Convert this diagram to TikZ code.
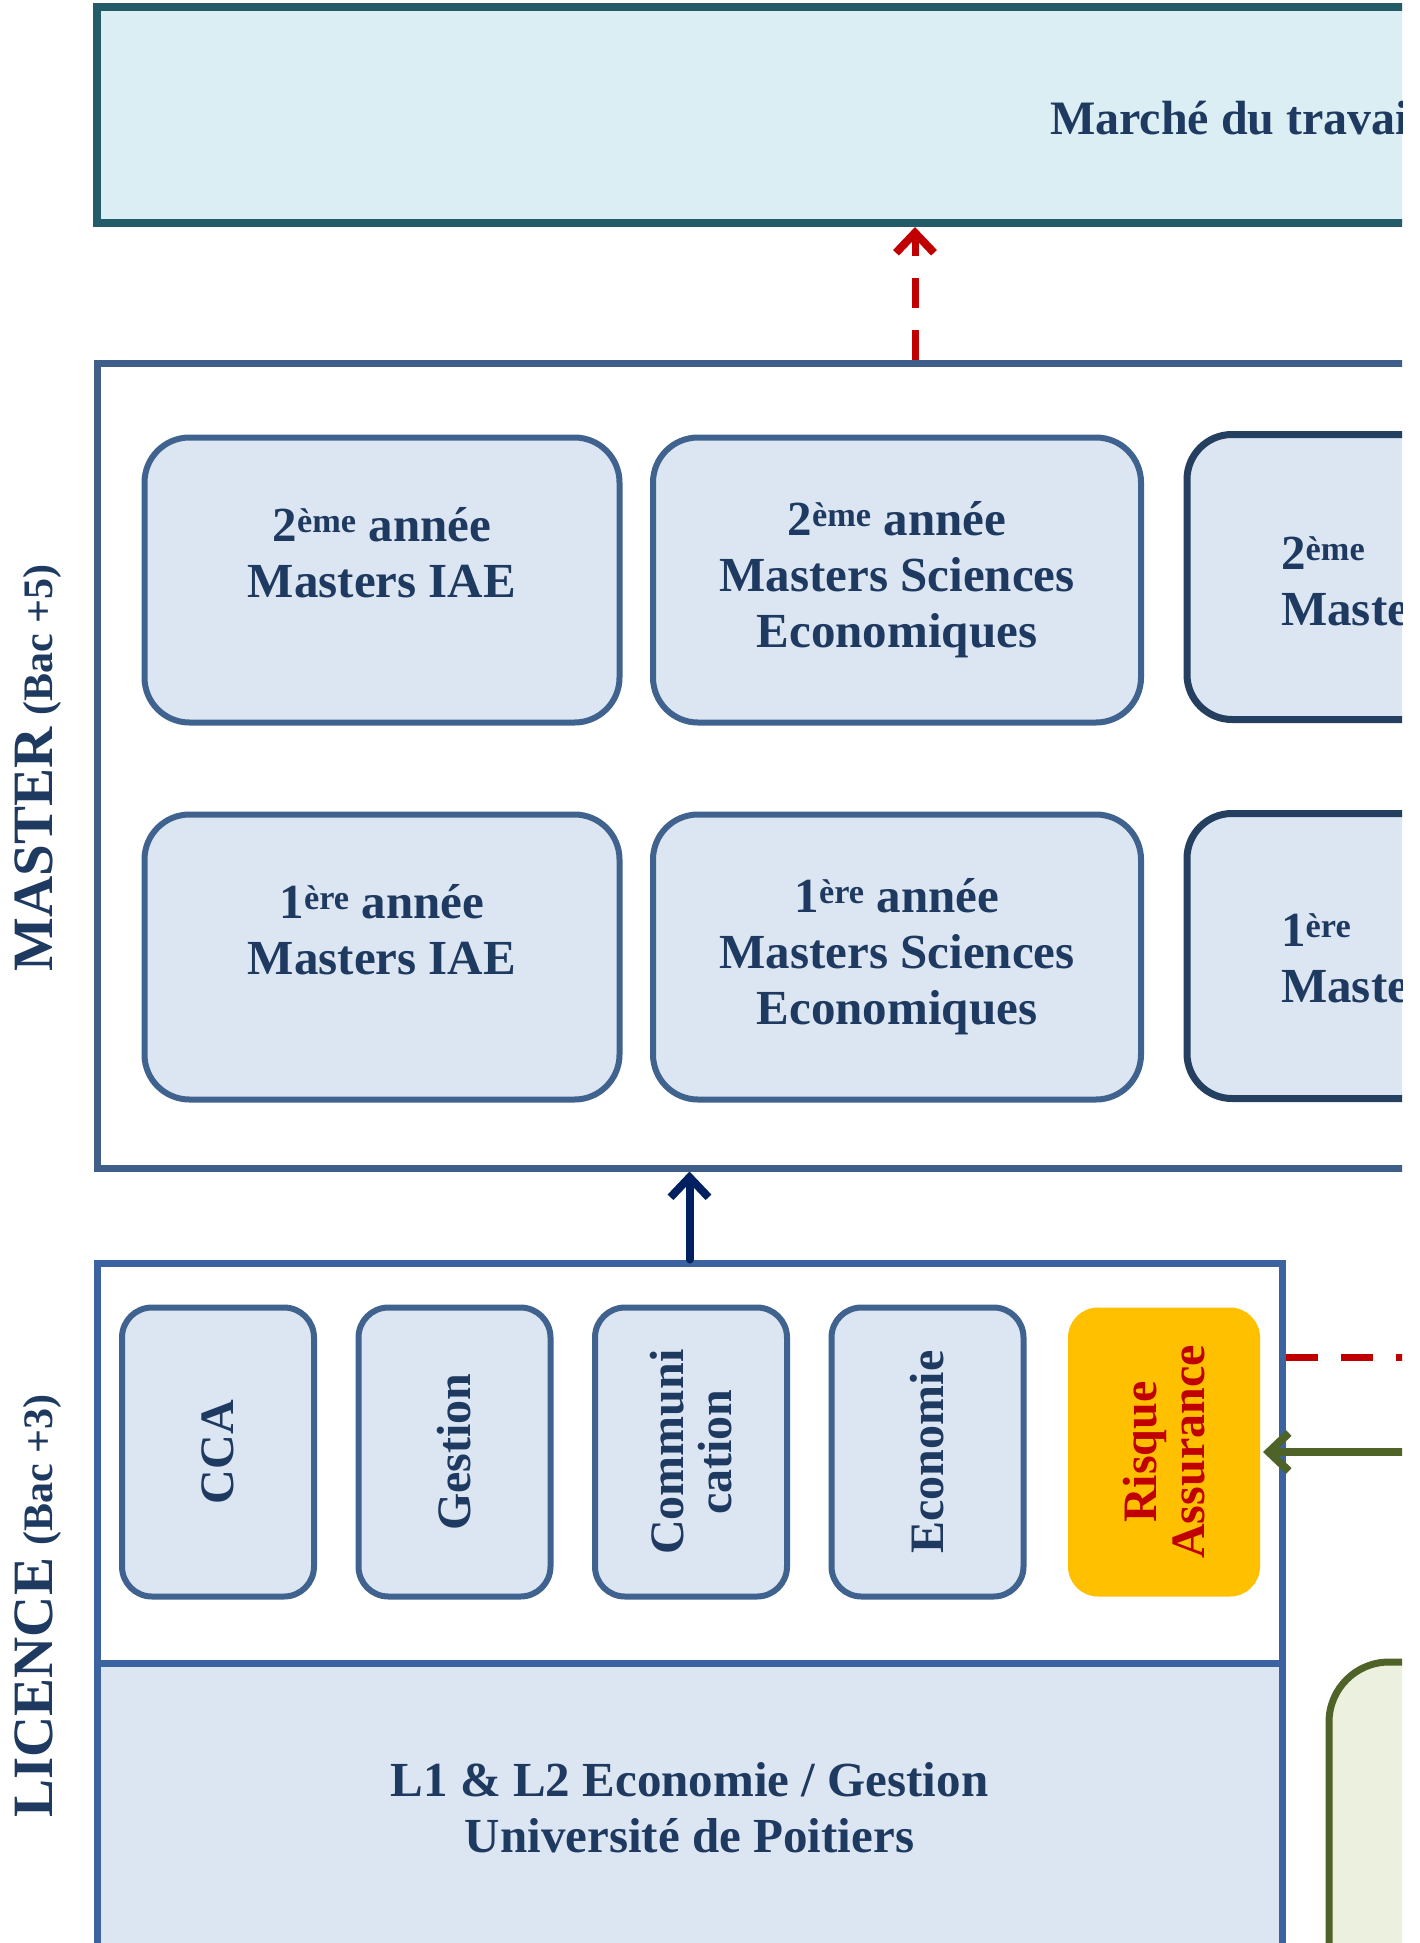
\documentclass[tikz,border=0pt]{standalone}
\usepackage{fontspec}
\setmainfont{Liberation Serif}
\usetikzlibrary{arrows.meta}
\pgfdeclarelayer{edgelayer}
\pgfdeclarelayer{nodelayer}
\pgfsetlayers{nodelayer,edgelayer,main}
\definecolor{txt}{HTML}{1F3A60}
\definecolor{topfill}{HTML}{DBEEF4}
\definecolor{topframe}{HTML}{235B68}
\definecolor{outframe}{HTML}{3F5F8A}
\definecolor{licframe}{HTML}{3B63A0}
\definecolor{boxframe}{HTML}{40628F}
\definecolor{darkframe}{HTML}{253F60}
\definecolor{boxfill}{HTML}{DCE6F2}
\definecolor{orange}{HTML}{FFC000}
\definecolor{darkred}{HTML}{C00000}
\definecolor{navy}{HTML}{002060}
\definecolor{olive}{HTML}{4F6228}
\definecolor{olivefill}{HTML}{EBF1DE}
\newcommand{\boxfont}{\fontsize{49}{56}\selectfont\bfseries}
\newcommand{\rang}[1]{\smash{\textsuperscript{#1}}}
\tikzset{x=1pt,y=-1pt}
\tikzstyle{none}=[inner sep=0pt]
\tikzstyle{label}=[inner sep=0pt,text=txt,font=\boxfont]
\tikzstyle{outer}=[rectangle,draw=outframe,fill=white,line width=7pt,inner sep=0pt]
\tikzstyle{mbox}=[rectangle,rounded corners=45pt,draw=boxframe,fill=boxfill,line width=6pt,
  minimum height=285pt,inner sep=0pt,align=center,text=txt,font=\boxfont]
\tikzstyle{lbox}=[rectangle,rounded corners=30pt,draw=boxframe,fill=boxfill,line width=6pt,
  minimum width=289pt,minimum height=192pt,rotate=90,inner sep=0pt,align=center,text=txt,
  font=\fontsize{48}{48}\selectfont\bfseries]
\tikzstyle{arrow}=[line width=8pt,line cap=round,-{Straight Barb[length=20pt,width=38pt,line width=8pt]}]

\begin{document}
\begin{tikzpicture}
	\useasboundingbox (0,0) rectangle (1419,1943);
	\node [style=label,rotate=90] (lmaster) at (38,768) {{\fontsize{57}{57}\selectfont MASTER} {\fontsize{42}{42}\selectfont(Bac +5)}};
	\node [style=label,rotate=90] (llicence) at (38,1606) {{\fontsize{57}{57}\selectfont LICENCE} {\fontsize{42}{42}\selectfont(Bac +3)}};
	\begin{pgfonlayer}{nodelayer}
		\fill [white] (0,0) rectangle (1419,1943);
		\clip (0,0) rectangle (1402,1943);
		\node [style=outer,draw=topframe,fill=topfill,line width=8pt,minimum width=1636pt,minimum height=216pt] (marche) at (915,115) {};
		\node [style=label,anchor=west,font=\fontsize{48}{56}\selectfont\bfseries] (tmarche) at (1050,118) {Marché du travai};
		\node [style=outer,minimum width=1636pt,minimum height=805pt] (master) at (915,765.5) {};
		\node [style=mbox,minimum width=475pt] (m2iae) at (382,580) {2\rang{ème} année\\Masters IAE\\\mbox{}};
		\node [style=mbox,minimum width=488pt] (m2eco) at (897,580) {2\rang{ème} année\\Masters Sciences\\Economiques};
		\node [style=mbox,draw=darkframe,line width=7pt,minimum width=488pt] (m2c) at (1431,577) {};
		\node [style=label,align=left,anchor=west] (tm2c) at (1281,582) {2\rang{ème}\\Maste};
		\node [style=mbox,minimum width=475pt] (m1iae) at (382,957) {1\rang{ère} année\\Masters IAE\\\mbox{}};
		\node [style=mbox,minimum width=488pt] (m1eco) at (897,957) {1\rang{ère} année\\Masters Sciences\\Economiques};
		\node [style=mbox,draw=darkframe,line width=7pt,minimum width=488pt] (m1c) at (1431,956) {};
		\node [style=label,align=left,anchor=west] (tm1c) at (1281,959) {1\rang{ère}\\Maste};
		\node [style=outer,draw=licframe,minimum width=1185pt,minimum height=690pt] (licence) at (689.5,1608) {};
		\node [style=outer,draw=licframe,fill=boxfill,minimum width=1185pt,minimum height=290pt,
			align=center,text=txt,font=\boxfont] (l1l2) at (689.5,1808) {L1 \& L2 Economie / Gestion\\Université de Poitiers};
		\node [style=lbox] (cca) at (218,1452) {CCA};
		\node [style=lbox] (gestion) at (454.5,1452) {Gestion};
		\node [style=lbox] (comm) at (691,1452) {Communi\\cation};
		\node [style=lbox] (eco) at (927.5,1452) {Economie};
		\node [style=lbox,draw=none,fill=orange,text=darkred] (risque) at (1164,1452) {Risque\\Assurance};
		\node [style=outer,rounded corners=60pt,draw=olive,fill=olivefill,minimum width=400pt,minimum height=500pt] (autre) at (1529,1912) {};
	\end{pgfonlayer}
	\begin{pgfonlayer}{edgelayer}
		\clip (0,0) rectangle (1402,1943);
		\coordinate (rdend) at (1500,1357);
		\coordinate (grstart) at (1500,1452);
		\draw [style=arrow,darkred,line width=7pt,line cap=butt,dash pattern=on 30pt off 22pt] (master.north) to (marche.south);
		\draw [style=arrow,navy] (licence.north) to (licence.north |- master.south);
		\draw [darkred,line width=7pt,dash pattern=on 32pt off 23pt] (licence.east |- rdend) to (rdend);
		\draw [style=arrow,olive] (grstart) to (risque.south);
	\end{pgfonlayer}
\end{tikzpicture}
\end{document}
